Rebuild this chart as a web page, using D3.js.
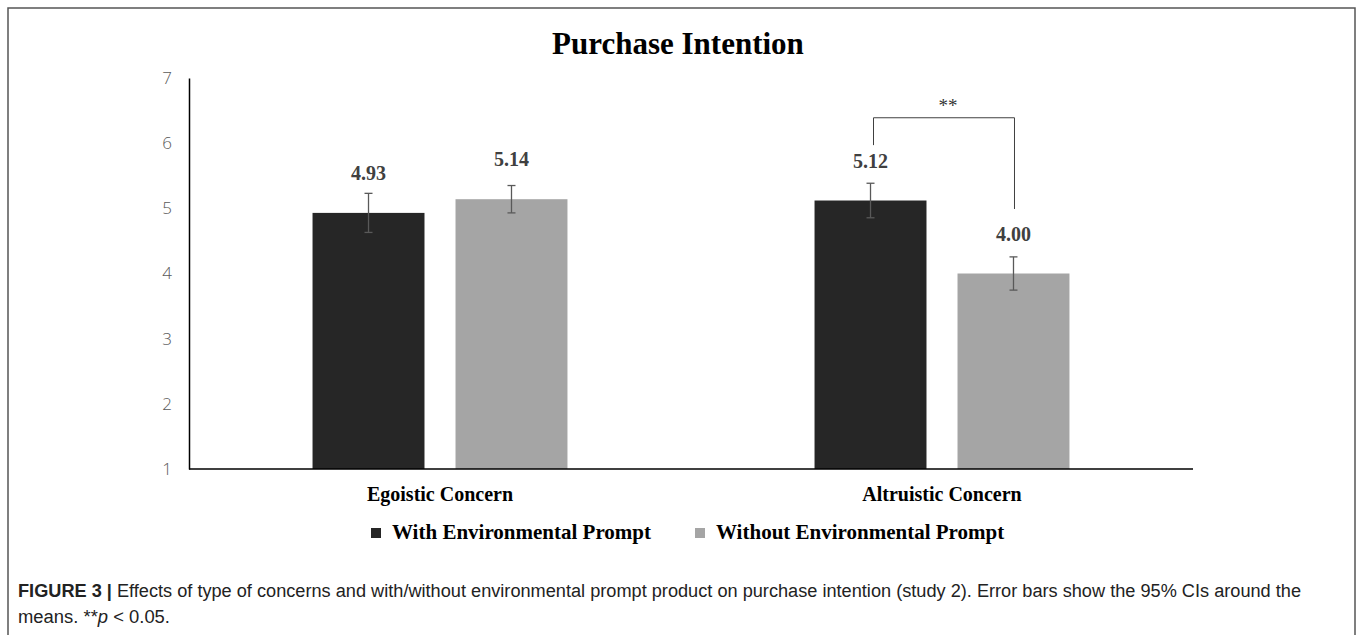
<!DOCTYPE html>
<html>
<head>
<meta charset="utf-8">
<script src="https://cdn.jsdelivr.net/npm/d3@7"></script>
<style>
body { margin: 0; background: #fff; }
</style>
</head>
<body>
<script>
const W = 1358
const H = 635

// chart data
const categories = ["Egoistic Concern", "Altruistic Concern"]
const seriesNames = ["With Environmental Prompt", "Without Environmental Prompt"]
const seriesColors = ["#262626", "#a5a5a5"]
const withPrompt = [4.93, 5.12]
const withoutPrompt = [5.14, 4.00]
const withPromptCI = [0.30, 0.265]
const withoutPromptCI = [0.21, 0.255]
const yTicks = [1, 2, 3, 4, 5, 6, 7]
// significance bracket: category, left top/bottom values, right bottom value
const sigBracket = {cat: "Altruistic Concern", leftLow: 5.97, top: 6.39, rightLow: 4.99, label: "**"}

var rows = categories.map(function(c, i){
	return [
		{cat: c, s: 0, v: withPrompt[i], ci: withPromptCI[i]},
		{cat: c, s: 1, v: withoutPrompt[i], ci: withoutPromptCI[i]}
	]
})

var svg = d3.select("body").append("svg")
	.attr("width", W)
	.attr("height", H)

// frame round the whole figure
svg.append("rect")
	.attr("x", 8).attr("y", 8)
	.attr("width", 1347).attr("height", 650)
	.attr("fill", "none")
	.attr("stroke", "#555")
	.attr("stroke-width", 1.5)

var x0 = d3.scaleBand()
	.domain(categories)
	.range([189, 1193])

var x1 = d3.scaleBand()
	.domain([0, 1])
	.range([0, x0.bandwidth()])
	.paddingInner(0.217)
	.paddingOuter(0.864)

var y = d3.scaleLinear()
	.domain([1, 7])
	.range([469, 78])

// title
svg.append("text")
	.attr("x", 678).attr("y", 54)
	.attr("text-anchor", "middle")
	.style("font-family", "'Liberation Serif', 'Times New Roman', serif")
	.style("font-weight", "bold")
	.style("font-size", "31px")
	.attr("fill", "#000")
	.text("Purchase Intention")

// y axis
var yAxis = svg.append("g")
	.attr("transform", "translate(189,0)")
	.call(d3.axisLeft(y).tickValues(yTicks).tickFormat(d3.format("d")).tickSize(0).tickSizeOuter(0).tickPadding(17))
yAxis.select(".domain").attr("stroke", "#000").attr("stroke-width", 1.5)
yAxis.selectAll("text")
	.style("font-family", "'Open Sans', sans-serif")
	.style("font-size", "17px")
	.style("font-weight", "300")
	.attr("fill", "#595959")

// bars
var groups = svg.selectAll("g.cat")
	.data(rows)
	.enter().append("g")
	.attr("class", "cat")
	.attr("transform", function(d){ return "translate(" + x0(d[0].cat) + ",0)" })

groups.selectAll("rect")
	.data(function(d){ return d })
	.enter().append("rect")
	.attr("x", function(d){ return x1(d.s) })
	.attr("y", function(d){ return y(d.v) })
	.attr("width", x1.bandwidth())
	.attr("height", function(d){ return y(1) - y(d.v) })
	.attr("fill", function(d){ return seriesColors[d.s] })

// error bars
var eb = groups.selectAll("g.err")
	.data(function(d){ return d })
	.enter().append("g")
	.attr("class", "err")
	.attr("stroke", "#595959")
	.attr("stroke-width", 1.3)
eb.append("line")
	.attr("x1", function(d){ return x1(d.s) + x1.bandwidth() / 2 })
	.attr("x2", function(d){ return x1(d.s) + x1.bandwidth() / 2 })
	.attr("y1", function(d){ return y(d.v + d.ci) })
	.attr("y2", function(d){ return y(d.v - d.ci) })
eb.selectAll("line.cap")
	.data(function(d){ return [d.v + d.ci, d.v - d.ci].map(function(v){ return {s: d.s, v: v} }) })
	.enter().append("line")
	.attr("class", "cap")
	.attr("x1", function(d){ return x1(d.s) + x1.bandwidth() / 2 - 4 })
	.attr("x2", function(d){ return x1(d.s) + x1.bandwidth() / 2 + 4 })
	.attr("y1", function(d){ return y(d.v) })
	.attr("y2", function(d){ return y(d.v) })

// value labels
groups.selectAll("text.val")
	.data(function(d){ return d })
	.enter().append("text")
	.attr("class", "val")
	.attr("x", function(d){ return x1(d.s) + x1.bandwidth() / 2 })
	.attr("y", function(d){ return y(d.v) - 33 })
	.attr("text-anchor", "middle")
	.style("font-family", "'Liberation Serif', 'Times New Roman', serif")
	.style("font-weight", "bold")
	.style("font-size", "20px")
	.attr("fill", "#404040")
	.text(function(d){ return d.v.toFixed(2) })

// x axis line and category labels
svg.append("line")
	.attr("x1", 189).attr("x2", 1193)
	.attr("y1", y(1)).attr("y2", y(1))
	.attr("stroke", "#000").attr("stroke-width", 1.5)

svg.selectAll("text.cat")
	.data(categories)
	.enter().append("text")
	.attr("class", "cat")
	.attr("x", function(d){ return x0(d) + x0.bandwidth() / 2 })
	.attr("y", 501)
	.attr("text-anchor", "middle")
	.style("font-family", "'Liberation Serif', 'Times New Roman', serif")
	.style("font-weight", "bold")
	.style("font-size", "20px")
	.attr("fill", "#000")
	.text(function(d){ return d })

// significance bracket
var bx0 = x0(sigBracket.cat) + x1(0) + x1.bandwidth() / 2 + 3
var bx1 = x0(sigBracket.cat) + x1(1) + x1.bandwidth() / 2 + 1
svg.append("path")
	.attr("d", "M" + bx0 + "," + y(sigBracket.leftLow) + "V" + y(sigBracket.top) + "H" + bx1 + "V" + y(sigBracket.rightLow))
	.attr("fill", "none")
	.attr("stroke", "#404040")
	.attr("stroke-width", 1)
svg.append("text")
	.attr("x", (bx0 + bx1) / 2 + 4)
	.attr("y", y(sigBracket.top) - 6)
	.attr("text-anchor", "middle")
	.style("font-family", "'Liberation Serif', 'Times New Roman', serif")
	.style("font-size", "19px")
	.attr("fill", "#333")
	.text(sigBracket.label)

// legend
var legX = [371, 695]
var leg = svg.selectAll("g.leg")
	.data(seriesNames)
	.enter().append("g")
	.attr("class", "leg")
	.attr("transform", function(d, i){ return "translate(" + legX[i] + ",528)" })
leg.append("rect")
	.attr("width", 10).attr("height", 10)
	.attr("fill", function(d, i){ return seriesColors[i] })
leg.append("text")
	.attr("x", 21).attr("y", 11)
	.style("font-family", "'Liberation Serif', 'Times New Roman', serif")
	.style("font-weight", "bold")
	.style("font-size", "21px")
	.attr("fill", "#000")
	.text(function(d){ return d })

// caption
var cap = svg.append("g")
	.style("font-family", "'Liberation Sans', Arial, sans-serif")
	.style("font-size", "18px")
	.attr("fill", "#222")
var line1 = cap.append("text")
	.attr("x", 18).attr("y", 597)
	.attr("textLength", 1283)
	.attr("lengthAdjust", "spacingAndGlyphs")
line1.append("tspan").style("font-weight", "bold").text("FIGURE 3 | ")
line1.append("tspan").text("Effects of type of concerns and with/without environmental prompt product on purchase intention (study 2). Error bars show the 95% CIs around the")
var line2 = cap.append("text")
	.attr("x", 18).attr("y", 623)
	.attr("textLength", 152)
	.attr("lengthAdjust", "spacingAndGlyphs")
line2.append("tspan").text("means. **")
line2.append("tspan").style("font-style", "italic").text("p")
line2.append("tspan").text(" < 0.05.")
</script>
</body>
</html>
